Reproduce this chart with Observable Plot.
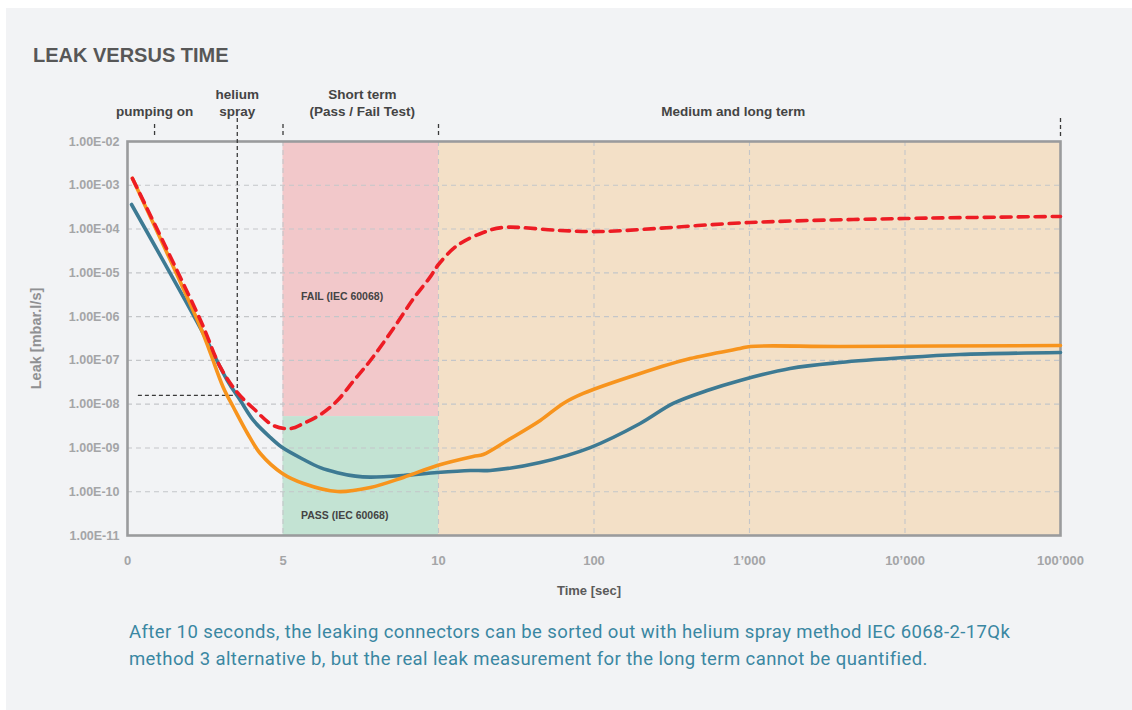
<!DOCTYPE html>
<html><head><meta charset="utf-8">
<script src="https://cdn.jsdelivr.net/npm/d3@7"></script>
<script src="https://cdn.jsdelivr.net/npm/@observablehq/plot@0.6"></script>
<style>
body{margin:0;background:#fff;width:1132px;height:710px;position:relative;overflow:hidden;font-family:"Liberation Sans",Arial,sans-serif}
#card{position:absolute;left:6px;top:8px;right:0;bottom:0;background:#f2f3f5}
#title{position:absolute;left:33px;top:43px;font-weight:bold;font-size:20px;color:#575757;margin:0;line-height:24px}
#chart{position:absolute;left:0;top:0}
#caption{position:absolute;left:129px;top:619px;margin:0;font-family:Roboto,sans-serif;font-size:18.5px;letter-spacing:0.4px;line-height:27px;color:#3a87a2;width:1000px;white-space:nowrap}
</style>
</head><body>
<div id="card"></div>
<h1 id="title">LEAK VERSUS TIME</h1>
<div id="chart"></div>
<p id="caption">After 10 seconds, the leaking connectors can be sorted out with helium spray method IEC 6068-2-17Qk<br>method 3 alternative b, but the real leak measurement for the long term cannot be quantified.</p>
<script>
// ---- data (time in seconds, leak in mbar·l/s) ----
const blueT    = [0.13, 2.35, 3.21, 3.63, 4.05, 4.60, 4.98, 5.66, 6.20, 6.75, 7.33, 7.81, 8.87, 9.96, 16.0, 21.5, 45.1, 94.6, 198, 323, 534, 870, 1824, 3820, 10000, 22500, 100000];
const blueLeak = [3.64e-4, 5.36e-7, 3.47e-8, 1.21e-8, 4.24e-9, 1.72e-9, 1.02e-9, 5.45e-10, 3.55e-10, 2.73e-10, 2.27e-10, 2.16e-10, 2.35e-10, 2.75e-10, 3.06e-10, 3.06e-10, 4.66e-10, 1.02e-9, 3.62e-9, 1.04e-8, 2.05e-8, 3.48e-8, 6.53e-8, 8.96e-8, 1.16e-7, 1.36e-7, 1.51e-7];

const orangeT    = [0.16, 2.35, 2.67, 3.08, 3.41, 3.86, 4.27, 4.98, 5.66, 6.75, 7.81, 8.87, 9.96, 16.7, 19.4, 27.7, 45.1, 63.4, 85.3, 198, 415, 870, 1009, 3820, 100000];
const orangeLeak = [1.43e-3, 5.64e-7, 1.44e-7, 2.41e-8, 8.4e-9, 2.14e-9, 7.46e-10, 2.61e-10, 1.54e-10, 1.01e-10, 1.25e-10, 2.12e-10, 3.97e-10, 6.38e-10, 7.09e-10, 1.48e-9, 4.24e-9, 1.04e-8, 1.76e-8, 5.02e-8, 1.10e-7, 1.87e-7, 2.08e-7, 2.08e-7, 2.19e-7];

const redT    = [0.16, 2.35, 2.99, 3.53, 4.05, 4.69, 5.24, 5.66, 6.20, 6.75, 7.26, 7.81, 8.55, 9.19, 9.74, 10, 13.2, 19.4, 26.1, 60.7, 110, 1000, 10000, 100000];
const redLeak = [1.43e-3, 8.15e-7, 6.89e-8, 1.85e-8, 7.96e-9, 3.26e-9, 2.78e-9, 3.62e-9, 5.76e-9, 1.21e-8, 3.35e-8, 9.95e-8, 5.36e-7, 2.55e-6, 8.19e-6, 1.55e-5, 4.21e-5, 8.35e-5, 1.09e-4, 9.27e-5, 8.79e-5, 1.41e-4, 1.74e-4, 1.94e-4];

const timeTicks      = [0, 5, 10, 100, 1000, 10000, 100000];
const timeTickLabels = ["0", "5", "10", "100", "1’000", "10’000", "100’000"];
const leakTicks      = [1e-11, 1e-10, 1e-9, 1e-8, 1e-7, 1e-6, 1e-5, 1e-4, 1e-3, 1e-2];

const zoneNames  = ["fail", "pass", "medium"];
const zoneT1     = [5, 5, 10];
const zoneT2     = [10, 10, 100000];
const zoneLow    = [5.2e-9, 1e-11, 1e-11];
const zoneHigh   = [1e-2, 5.2e-9, 1e-2];
const zoneLabels = ["FAIL (IEC 60068)", "PASS (IEC 60068)"];
const zoneLabelT    = [5.58, 5.58];
const zoneLabelLeak = [2.88e-6, 2.86e-11];

const phaseLabels = ["pumping on", "helium\nspray", "Short term\n(Pass / Fail Test)", "Medium and long term"];
const phaseLabelT = [0.87, 3.53, 7.55, 785];
const phaseTickT  = [0.87, 5, 10, 100000];
const heliumT = 3.53, heliumLeak = 1.58e-8, heliumStartT = 0.35;

// ---- helpers ----
// piecewise time axis: linear 0–10 s, logarithmic above
const tx = t => t <= 10 ? t / 5 : 1 + Math.log10(t);
const fmtE = v => { const e = Math.round(Math.log10(v)); const s = e < 0 ? "-" : "+"; return "1.00E" + s + String(Math.abs(e)).padStart(2, "0"); };
const tickLabelMap = new Map(timeTicks.map((t, i) => [tx(t), timeTickLabels[i]]));

const mk = (T, L) => T.map((t, i) => ({t, leak: L[i]}));
const blue = mk(blueT, blueLeak), orange = mk(orangeT, orangeLeak), red = mk(redT, redLeak);
const zones = zoneNames.map((n, i) => ({name: n, t1: zoneT1[i], t2: zoneT2[i], lo: zoneLow[i], hi: zoneHigh[i]}));
const zoneText = zoneLabels.map((s, i) => ({s, t: zoneLabelT[i], leak: zoneLabelLeak[i]}));
const phases = phaseLabels.map((s, i) => ({s, t: phaseLabelT[i]}));

const chart = Plot.plot({
  width: 1132, height: 610,
  marginLeft: 127, marginRight: 72, marginTop: 141, marginBottom: 75,
  style: {background: "transparent", fontFamily: "'Liberation Sans', Arial, sans-serif"},
  x: {type: "linear", domain: [0, 6]},
  y: {type: "log", domain: [1e-11, 1e-2]},
  color: {domain: zoneNames, range: ["#f2c8ca", "#c3e3d3", "#f3e0c7"]},
  marks: [
    Plot.rect(zones, {x1: d => tx(d.t1), x2: d => tx(d.t2), y1: "lo", y2: "hi", fill: "name"}),
    Plot.ruleY(leakTicks.slice(1, -1), {stroke: "#c4c6c9", strokeWidth: 1.1, strokeDasharray: "5,4"}),
    Plot.ruleX(timeTicks.slice(1, -1), {x: tx, stroke: "#c4c6c9", strokeWidth: 1.1, strokeDasharray: "5,4"}),
    Plot.frame({stroke: "#9a9b9d", strokeWidth: 2.6}),
    Plot.axisY(leakTicks, {tickSize: 0, tickPadding: 8, tickFormat: fmtE, fill: "#a4a5a7", fontWeight: "bold", fontSize: 12.5, label: null}),
    Plot.axisX(timeTicks.map(tx), {tickSize: 0, tickPadding: 20, tickFormat: u => tickLabelMap.get(u), fill: "#a4a5a7", fontWeight: "bold", fontSize: 13, label: null}),
    Plot.text(["Time [sec]"], {frameAnchor: "bottom", dx: -5, dy: 59, fill: "#5a5a5a", fontWeight: "bold", fontSize: 13}),
    Plot.text(["Leak [mbar.l/s]"], {frameAnchor: "left", textAnchor: "middle", dx: -91, rotate: -90, fill: "#8f9092", fontWeight: "bold", fontSize: 14.5}),
    // helium spray guide lines
    Plot.ruleX([heliumT], {x: tx, y1: 0.0335, y2: heliumLeak, stroke: "#3a3a3a", strokeWidth: 1.3, strokeDasharray: "4,3"}),
    Plot.ruleY([heliumLeak], {x1: tx(heliumStartT), x2: tx(heliumT), stroke: "#3a3a3a", strokeWidth: 1.3, strokeDasharray: "4,3"}),
    // top phase ticks
    Plot.ruleX(phaseTickT.slice(0, 3), {x: tx, y1: 0.0244, y2: 0.0123, stroke: "#3a3a3a", strokeWidth: 1.3, strokeDasharray: "4,3"}),
    Plot.ruleX(phaseTickT.slice(3), {x: tx, y1: 0.0335, y2: 0.0111, stroke: "#3a3a3a", strokeWidth: 1.3, strokeDasharray: "4,3"}),
    Plot.text(phases, {x: d => tx(d.t), text: "s", frameAnchor: "top", dy: -26, lineAnchor: "bottom", lineHeight: 1.2, fill: "#444", fontWeight: "bold", fontSize: 13.5}),
    // zone labels
    Plot.text(zoneText, {x: d => tx(d.t), y: "leak", text: "s", textAnchor: "start", fill: "#444", fontWeight: "bold", fontSize: 10.5}),
    // curves
    Plot.line(blue, {x: d => tx(d.t), y: "leak", curve: "catmull-rom", stroke: "#3d7a93", strokeWidth: 3.6}),
    Plot.line(orange, {x: d => tx(d.t), y: "leak", curve: "catmull-rom", stroke: "#f7941d", strokeWidth: 3.6}),
    Plot.line(red, {x: d => tx(d.t), y: "leak", curve: "catmull-rom", stroke: "#ed1c24", strokeWidth: 3.6, strokeDasharray: "10,7"})
  ]
});
document.getElementById("chart").appendChild(chart);
</script>
</body></html>
